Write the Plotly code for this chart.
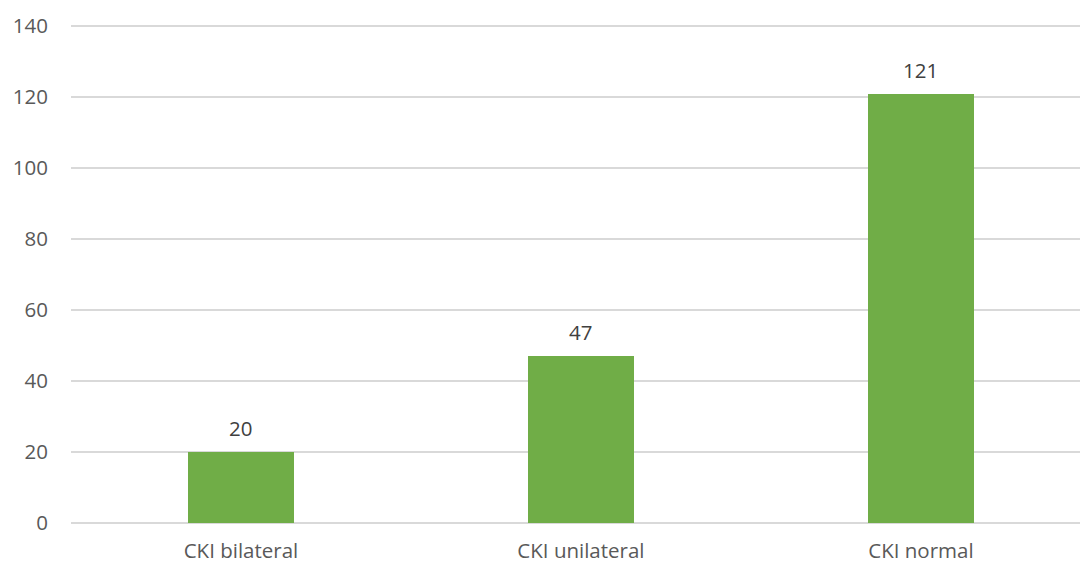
import plotly.graph_objects as go

categories = ["CKI bilateral", "CKI unilateral", "CKI normal"]
values = [20, 47, 121]
y_ticks = [0, 20, 40, 60, 80, 100, 120, 140]

FONT = "Open Sans"
SIZE = 20.5

fig = go.Figure()
fig.add_trace(go.Bar(
    x=categories, y=values,
    marker=dict(color="#70AD47", line=dict(width=0)),
    width=0.312,
))
for c, v in zip(categories, values):
    fig.add_annotation(x=c, y=v, text=str(v), showarrow=False,
                       yanchor="bottom", yshift=8,
                       font=dict(family=FONT, size=SIZE, color="#404040"))

fig.update_layout(
    width=1080, height=563,
    margin=dict(l=71, r=0, t=25, b=40),
    paper_bgcolor="white", plot_bgcolor="white",
    showlegend=False,
    font=dict(family=FONT, size=SIZE, color="#595959"),
    bargap=0,
)
fig.update_xaxes(range=[-0.5, 2.468], showgrid=False, showline=False,
                 ticks="", ticklabelstandoff=13,
                 tickfont=dict(family=FONT, size=SIZE, color="#595959"))
fig.update_yaxes(range=[0, 140.3], tickvals=y_ticks, showgrid=True,
                 gridcolor="#D9D9D9", gridwidth=1.5, zeroline=True,
                 zerolinecolor="#D9D9D9", zerolinewidth=1.5,
                 showline=False, ticks="", ticklabelstandoff=22,
                 tickfont=dict(family=FONT, size=SIZE, color="#595959"))

fig.write_html("out.html")
